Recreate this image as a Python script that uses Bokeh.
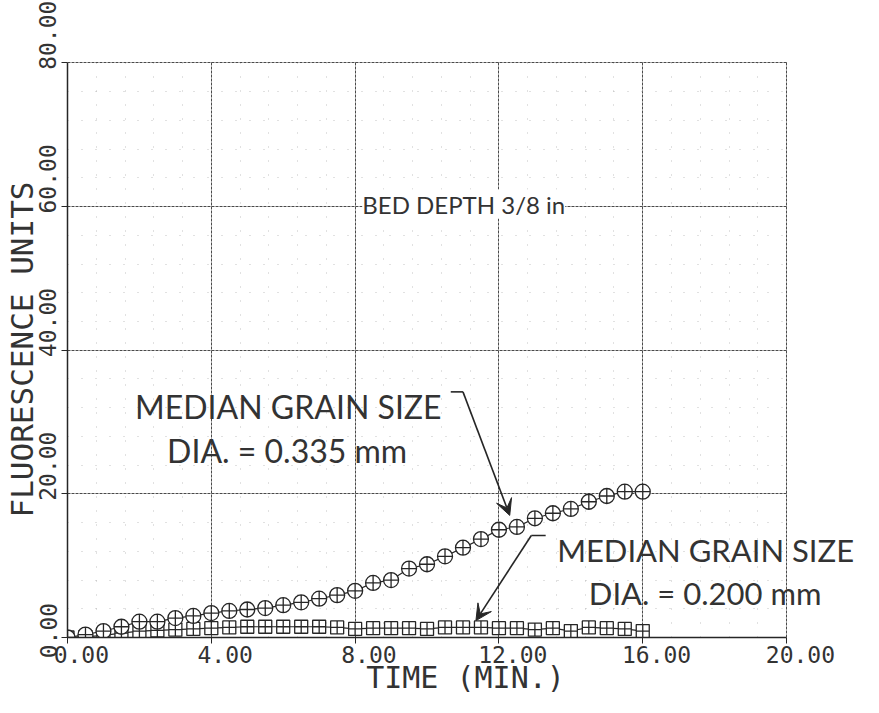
from bokeh.plotting import figure
from bokeh.models import Range1d, FixedTicker, Label, Arrow, VeeHead
from bokeh.embed import file_html
from bokeh.resources import INLINE

# ---------------- data ----------------
time_min = [0.0, 0.5, 1.0, 1.5, 2.0, 2.5, 3.0, 3.5, 4.0, 4.5, 5.0, 5.5, 6.0, 6.5,
            7.0, 7.5, 8.0, 8.5, 9.0, 9.5, 10.0, 10.5, 11.0, 11.5, 12.0, 12.5,
            13.0, 13.5, 14.0, 14.5, 15.0, 15.5, 16.0]
fluor_0335 = [0.0, 0.4, 0.9, 1.5, 2.2, 2.2, 2.7, 3.0, 3.4, 3.7, 3.9, 4.1, 4.5, 4.9,
              5.4, 5.9, 6.5, 7.6, 8.0, 9.6, 10.2, 11.3, 12.5, 13.7, 15.0, 15.4,
              16.6, 17.3, 17.9, 18.9, 19.7, 20.3, 20.3]
fluor_0200 = [0.0, 0.1, 0.3, 0.6, 0.9, 1.0, 1.1, 1.2, 1.3, 1.4, 1.5, 1.5, 1.5, 1.5,
              1.5, 1.4, 1.2, 1.3, 1.3, 1.3, 1.2, 1.4, 1.4, 1.4, 1.3, 1.3,
              1.1, 1.3, 0.9, 1.4, 1.3, 1.2, 0.9]

x_ticks = [0, 4, 8, 12, 16, 20]
x_tick_labels = ["0.00", "4.00", "8.00", "12.00", "16.00", "20.00"]
y_ticks = [0, 20, 40, 60, 80]
y_tick_labels = ["0.00", "20.00", "40.00", "60.00", "80.00"]
x_minor = [i * 0.8 for i in range(26)]
y_minor = [i * 4 for i in range(21)]

x_title = "TIME (MIN.)"
y_title = "FLUORESCENCE UNITS"
note_bed = "BED DEPTH 3/8 in"
note_a1 = "MEDIAN GRAIN SIZE"
note_a2 = "DIA. = 0.335 mm"
note_b1 = "MEDIAN GRAIN SIZE"
note_b2 = "DIA. = 0.200 mm"

INK = "#262626"
TXT = "#333333"
MONO = "DejaVu Sans Mono"
SANS = "Lato"
NB = "\u00a0"

# ---------------- figure ----------------
# The frame runs past x = 20 (to the figure's right edge) so that the
# right-hand note is not clipped; axis and grid are bounded at 0..20.
X_END = 22.14
p = figure(width=863, height=697, x_range=Range1d(0, X_END), y_range=Range1d(0, 80.2),
           output_backend="svg", toolbar_location=None,
           min_border_left=64, min_border_right=0, min_border_top=61,
           min_border_bottom=50)
p.outline_line_color = None
p.background_fill_color = "white"
p.border_fill_color = "white"

for ax in (p.xaxis[0], p.yaxis[0]):
    ax.axis_line_color = INK
    ax.axis_line_width = 1.5
    ax.major_tick_line_color = INK
    ax.major_tick_out = 6
    ax.major_tick_in = 0
    ax.minor_tick_out = 0
    ax.minor_tick_in = 0
    ax.major_label_text_font = MONO
    ax.major_label_text_font_size = "23px"
    ax.major_label_text_color = TXT
    ax.axis_label_text_font = MONO
    ax.axis_label_text_font_style = "normal"
    ax.axis_label_text_color = TXT

p.xaxis.axis_label_text_font_size = "30px"
p.yaxis.axis_label_text_font_size = "31px"
p.xaxis.bounds = (0, 20)
p.yaxis.bounds = (0, 80)
p.xaxis.ticker = FixedTicker(ticks=x_ticks, minor_ticks=x_minor)
p.yaxis.ticker = FixedTicker(ticks=y_ticks, minor_ticks=y_minor)
p.xaxis.major_label_overrides = {t: NB * 2 + s for t, s in zip(x_ticks, x_tick_labels)}
p.yaxis.major_label_overrides = {t: (NB if t == 0 else NB * 4) + s
                                 for t, s in zip(y_ticks, y_tick_labels)}
p.yaxis.major_label_orientation = "vertical"
p.xaxis.major_label_standoff = -2
p.yaxis.major_label_standoff = 0
p.xaxis.axis_label = x_title
p.yaxis.axis_label = y_title
p.xaxis.axis_label_standoff = -11
p.yaxis.axis_label_standoff = -7

for g in (p.xgrid[0], p.ygrid[0]):
    g.grid_line_color = "#4a4a4a"
    g.grid_line_dash = "3 1"
    g.grid_line_width = 1
    g.minor_grid_line_color = "#a8a8a8"
    g.minor_grid_line_dash = "1 13"
    g.minor_grid_line_alpha = 0.7
p.xgrid.ticker = FixedTicker(ticks=x_ticks, minor_ticks=x_minor)
p.ygrid.ticker = FixedTicker(ticks=y_ticks, minor_ticks=y_minor)
p.xgrid.bounds = (0, 20)
p.ygrid.bounds = (0, 80)
p.xgrid.cross_bounds = (0, 80)
p.ygrid.cross_bounds = (0, 20)

# ---------------- series ----------------
p.line(time_min, fluor_0200, line_color=INK, line_width=1.2)
p.scatter(time_min, fluor_0200, marker="square_cross", size=13,
          fill_color="white", line_color=INK, line_width=1.3)
p.line(time_min, fluor_0335, line_color=INK, line_width=1.2)
p.scatter(time_min, fluor_0335, marker="circle_cross", size=15,
          fill_color="white", line_color=INK, line_width=1.3)

# ---------------- annotations ----------------
def note(x, y, txt, size, bg=None):
    lab = Label(x=x, y=y, text=txt, text_font=SANS, text_font_size=size,
                text_color=TXT, text_baseline="alphabetic", text_align="left")
    if bg:
        lab.background_fill_color = bg
    p.add_layout(lab)

note(8.2, 60.35, note_bed, "24px", bg="white")
note(1.88, 32.2, note_a1, "32px")
note(2.77, 26.0, note_a2, "32px")
note(13.62, 12.2, note_b1, "31px")
note(14.5, 6.2, note_b2, "31px")

p.add_layout(Arrow(end=None, x_start=10.66, y_start=34.2, x_end=11.0, y_end=34.2,
                   line_color=INK, line_width=1.6))
p.add_layout(Arrow(end=VeeHead(size=16, fill_color=INK, line_color=INK),
                   x_start=11.0, y_start=34.2, x_end=12.3, y_end=17.0,
                   line_color=INK, line_width=1.6))
p.add_layout(Arrow(end=None, x_start=13.3, y_start=14.2, x_end=12.9, y_end=14.2,
                   line_color=INK, line_width=1.6))
p.add_layout(Arrow(end=VeeHead(size=16, fill_color=INK, line_color=INK),
                   x_start=12.9, y_start=14.2, x_end=11.36, y_end=2.35,
                   line_color=INK, line_width=1.6))

open("out.html", "w").write(file_html(p, INLINE))
